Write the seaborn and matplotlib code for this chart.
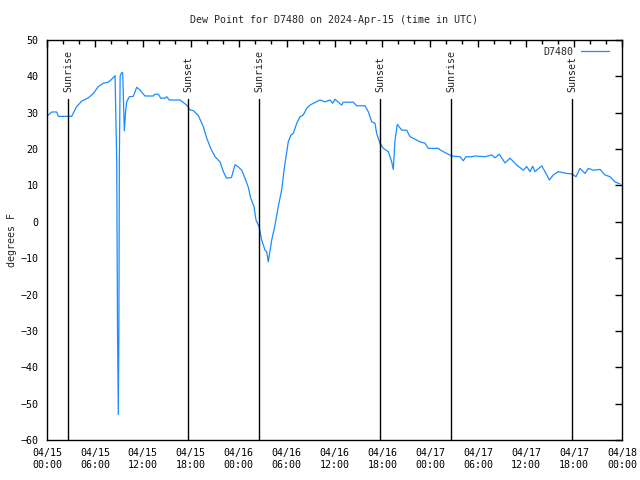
import numpy as np
import pandas as pd
import matplotlib
matplotlib.use("Agg")
import matplotlib.pyplot as plt
import matplotlib.dates as mdates
import seaborn as sns

# ---- data ----
hours = [0.00, 0.59, 1.21, 1.42, 3.09, 3.72, 4.35, 5.17, 5.80, 6.42, 7.05, 7.68, 8.10, 8.52,
         8.73, 8.83, 8.93, 9.00, 9.06, 9.16, 9.33, 9.48, 9.68, 9.83, 9.98, 10.31, 10.81, 11.23,
         11.65, 12.27, 13.31, 13.52, 13.94, 14.24, 14.78, 14.99, 15.31, 16.65, 17.07, 17.50,
         17.90, 18.32, 18.95, 19.57, 20.00, 20.54, 21.04, 21.66, 22.08, 22.48, 23.10, 23.54,
         23.95, 24.38, 24.79, 25.21, 25.51, 25.92, 26.17, 26.55, 26.88, 27.30, 27.51, 27.71,
         28.14, 28.55, 28.96, 29.39, 29.68, 29.93, 30.21, 30.55, 30.84, 31.27, 31.68, 32.09,
         32.52, 32.93, 33.35, 34.18, 34.81, 35.44, 35.77, 36.06, 36.90, 37.10, 38.35, 38.78,
         39.82, 40.23, 40.66, 41.07, 41.28, 41.70, 42.11, 42.74, 43.16, 43.36, 43.58, 43.86,
         44.42, 45.04, 45.46, 46.29, 46.71, 47.33, 47.75, 49.00, 49.21, 50.05, 50.68, 51.72,
         52.13, 52.47, 53.18, 53.59, 54.85, 55.69, 56.10, 56.64, 57.35, 57.98, 58.82, 59.64,
         60.07, 60.48, 60.82, 61.11, 61.95, 62.36, 62.90, 63.40, 64.03, 65.08, 65.70, 66.24,
         66.74, 67.37, 67.78, 68.41, 69.25, 69.87, 70.50, 71.12, 71.75]
dewpoint = [29.1, 30.2, 30.2, 29.0, 29.0, 31.7, 33.2, 34.1, 35.3, 37.2, 38.1, 38.4, 39.2, 40.2,
            17.0, -30.0, -53.0, -30.0, 17.0, 40.0, 41.0, 41.0, 25.0, 30.0, 33.0, 34.4, 34.5, 37.0,
            36.2, 34.6, 34.6, 35.1, 35.1, 34.0, 34.0, 34.4, 33.5, 33.5, 32.8, 32.1,
            30.8, 30.6, 29.2, 26.2, 23.0, 20.0, 17.9, 16.5, 13.8, 12.0, 12.2, 15.7,
            15.1, 14.2, 12.0, 9.5, 6.5, 4.2, 0.5, -1.3, -5.0, -7.8, -8.2, -11.0,
            -5.0, -0.9, 4.2, 8.8, 14.2, 17.9, 22.0, 23.9, 24.3, 27.1, 28.9, 29.4,
            31.2, 32.1, 32.6, 33.5, 33.0, 33.5, 32.6, 33.7, 32.1, 32.9, 32.9, 31.9,
            31.9, 30.3, 27.5, 27.1, 24.3, 21.6, 20.2, 19.3, 16.5, 14.4, 22.5, 26.8,
            25.2, 25.2, 23.4, 22.5, 22.0, 21.6, 20.2, 20.2, 19.8, 18.8, 18.1, 17.9,
            16.8, 17.9, 17.9, 18.1, 17.9, 18.4, 17.6, 18.6, 16.2, 17.5, 15.6, 14.2,
            15.2, 13.8, 15.3, 13.8, 15.4, 13.8, 11.5, 12.9, 13.8, 13.3, 13.2, 12.4,
            14.7, 13.3, 14.7, 14.2, 14.4, 12.9, 12.4, 11.0, 10.4]
event_labels = ["Sunrise", "Sunset", "Sunrise", "Sunset", "Sunrise", "Sunset"]
event_hours = [2.67, 17.69, 26.59, 41.74, 50.63, 65.80]
start = pd.Timestamp("2024-04-15 00:00")
end = pd.Timestamp("2024-04-18 00:00")
station = "D7480"
title = "Dew Point for D7480 on 2024-Apr-15 (time in UTC)"

df = pd.DataFrame({"time": start + pd.to_timedelta(hours, unit="h"),
                   "dewpoint": dewpoint})

sns.set_style("white")
FONT = ["DejaVu Sans Mono", "DejaVu Sans"]
plt.rcParams["font.family"] = FONT
FS = 7.2

fig = plt.figure(figsize=(6.4, 4.8), dpi=100)
ax = fig.add_axes([47/640, 1-440/480, 575/640, 400/480])

sns.lineplot(data=df, x="time", y="dewpoint", ax=ax, color="#1a8cff", lw=0.9,
             label=station)

ax.set_xlim(start, end)
ax.set_ylim(-60, 50)
ax.yaxis.set_major_locator(matplotlib.ticker.MultipleLocator(10))
ax.xaxis.set_major_locator(mdates.HourLocator(byhour=[0, 6, 12, 18]))
ax.xaxis.set_minor_locator(mdates.HourLocator(byhour=list(range(0, 24, 2))))
ax.xaxis.set_major_formatter(mdates.DateFormatter("%m/%d\n%H:%M"))

ax.tick_params(which="both", direction="in", top=True, right=True, width=1,
               colors="black", labelsize=FS)
ax.tick_params(which="major", length=5, pad=6)
ax.tick_params(which="minor", length=3)
for s in ax.spines.values():
    s.set_color("black")
    s.set_linewidth(1)

for lab, h in zip(event_labels, event_hours):
    t = start + pd.Timedelta(hours=h)
    ax.axvline(t, ymin=0, ymax=(33.7 + 60) / 110, color="black", lw=1)
    ax.text(t, 35.6, lab, rotation=90, ha="center", va="bottom", fontsize=FS)

ax.set_xlabel("")
ax.set_ylabel("")
fig.text(12/640, 0.5, "degrees F", rotation=90, ha="center", va="center", fontsize=FS)
fig.text(0.5225, 1-20/480, title, ha="center", va="center", fontsize=FS)

leg = ax.legend(loc="upper right", bbox_to_anchor=(0.99, 1.0), frameon=False,
                markerfirst=False, fontsize=FS, handlelength=2.8,
                borderaxespad=0.3, handletextpad=0.8)

fig.savefig("out.png", dpi=100)
